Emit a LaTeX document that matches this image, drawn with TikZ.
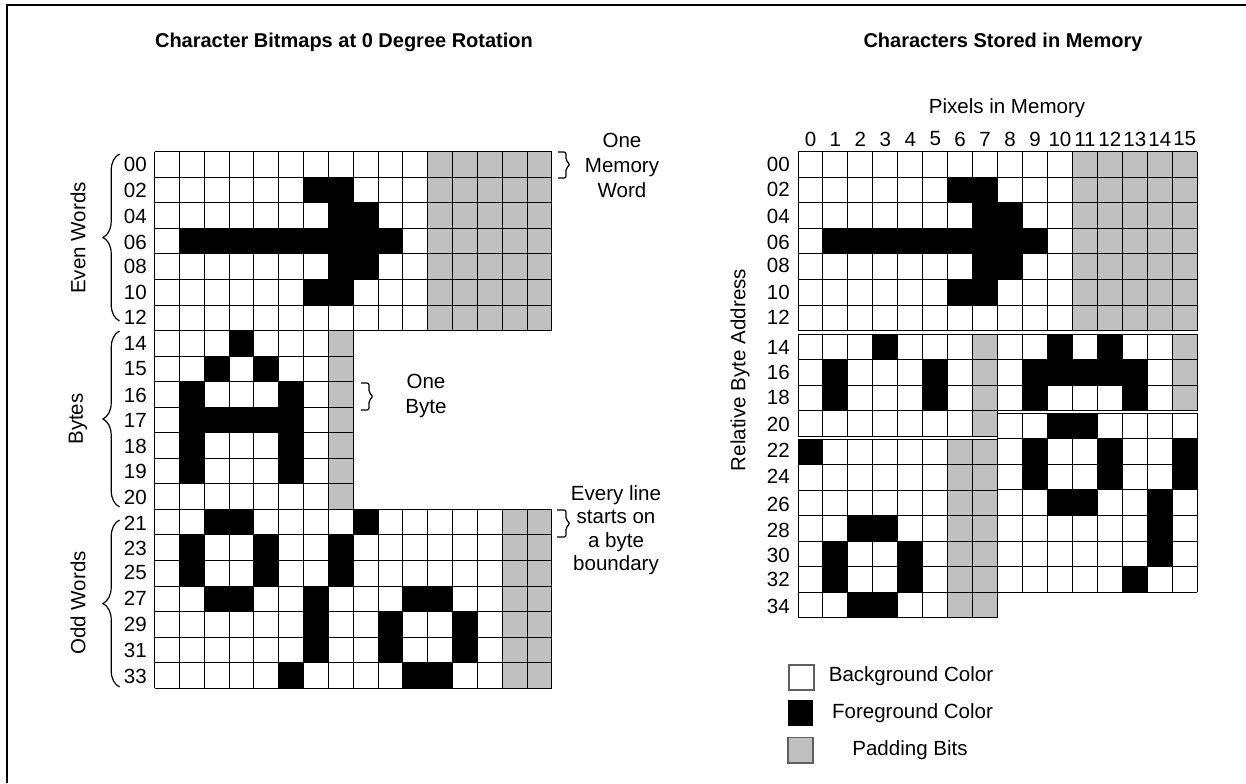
\documentclass[tikz,border=0pt]{standalone}
\usepackage{fontspec}
\setmainfont{Liberation Sans}
\usetikzlibrary{decorations.pathreplacing}

\definecolor{padgrey}{HTML}{C0C0C0}
\definecolor{boxedge}{HTML}{606060}

\tikzset{
    plaintext/.style={inner sep=0pt, font=\fontsize{15.4}{18.75}\selectfont},
    titletext/.style={inner sep=0pt, font=\fontsize{15}{18}\selectfont\bfseries},
    rowlabel/.style={plaintext, anchor=east},
    sidelabel/.style={plaintext, rotate=90},
    gridline/.style={line width=.7pt, draw=black},
    framing/.style={line width=1.6pt, draw=black},
    curlybrace/.style={line width=.9pt, decorate, decoration={brace, amplitude=12.4pt}},
    wordbracket/.style={line width=.9pt, rounded corners=1.5pt},
    legendbox/.style={line width=.8pt, draw=boxedge}
}

% x, y, cell width, columns, rows, padding columns, foreground cells
\newcommand{\bitgrid}[7]{
    \foreach \c in {#6} \fill[padgrey] ({#1+\c*#3},#2) rectangle ++(#3,{#5*\rowh});
    \foreach \c/\r in {#7} \fill[black] ({#1+\c*#3},{#2+\r*\rowh}) rectangle ++(#3,\rowh);
    \foreach \c in {0,...,#4} \draw[gridline] ({#1+\c*#3},#2) -- ++(0,{#5*\rowh});
    \foreach \r in {0,...,#5} \draw[gridline] (#1,{#2+\r*\rowh}) -- ++({#4*#3},0);
}

\begin{document}
\begin{tikzpicture}[x=.75pt, y=-.75pt]
    \useasboundingbox (0,0) rectangle (1246,783);
    \def\rowh{25.55}
    \def\leftw{24.84}
    \def\rightw{24.95}
    \def\lx{154.5}
    \def\rx{798}
    \def\rxb{997.6}

    % Frame, open on the right and at the bottom
    \draw[framing] (7,783) -- (7,5) -- (1246,5);

    % Titles
    \node[titletext] (lefttitle) at (344,42) {Character Bitmaps at 0 Degree Rotation};
    \node[titletext] (righttitle) at (1003,42) {Characters Stored in Memory};

    % Left side: the three blocks of characters
    \bitgrid{\lx}{151.7}{\leftw}{16}{7}{11,...,15}{6/1,7/1,7/2,8/2,1/3,2/3,3/3,4/3,5/3,6/3,7/3,8/3,9/3,7/4,8/4,6/5,7/5}
    \bitgrid{\lx}{330.55}{\leftw}{8}{7}{7}{3/0,2/1,4/1,1/2,5/2,1/3,2/3,3/3,4/3,5/3,1/4,5/4,1/5,5/5}
    \bitgrid{\lx}{509.4}{\leftw}{16}{7}{14,15}{2/0,3/0,8/0,1/1,4/1,7/1,1/2,4/2,7/2,2/3,3/3,6/3,10/3,11/3,6/4,9/4,12/4,6/5,9/5,12/5,5/6,10/6,11/6}

    % Left side: row numbers
    \foreach \lbl/\yy in {00/164,02/190,04/216,06/242,08/266,10/292,12/317,14/343,15/369,16/395,17/420,18/446,19/471,20/497,21/523,23/548,25/572,27/598,29/624,31/650,33/676}
        \node[rowlabel] (left\lbl) at (147,\yy) {\lbl};

    % Left side: braces and their labels
    \draw[curlybrace] (119.5,321) -- (119.5,154);
    \draw[curlybrace] (119.5,507) -- (119.5,331);
    \draw[curlybrace] (119.5,687) -- (119.5,520);
    \node[sidelabel] (evenwords) at (78,238) {Even Words};
    \node[sidelabel] (bytes) at (78,419) {Bytes};
    \node[sidelabel] (oddwords) at (78,603) {Odd Words};

    % Square brackets and notes beside the grid
    \draw[wordbracket] (558,152) -- (566,152) -- (566,160.5) -- (570,164.5) -- (566,168.5) -- (566,178) -- (558,178);
    \draw[wordbracket] (361,383) -- (369,383) -- (369,392.5) -- (373,396.5) -- (369,400.5) -- (369,410) -- (361,410);
    \draw[wordbracket] (557,510) -- (566,510) -- (566,519.5) -- (570,523.5) -- (566,527.5) -- (566,537) -- (557,537);
    \node[plaintext, align=center] (memoryword) at (622,165) {One\\Memory\\Word};
    \node[plaintext, align=center] (onebyte) at (426,395.5) {One\\Byte};
    \node[plaintext, align=center, font=\fontsize{15.4}{17.6}\selectfont] (everyline) at (616,530) {Every line\\starts on\\a byte\\boundary};

    % Right side: characters as stored
    \bitgrid{\rx}{151.7}{\rightw}{16}{7}{11,...,15}{6/1,7/1,7/2,8/2,1/3,2/3,3/3,4/3,5/3,6/3,7/3,8/3,9/3,7/4,8/4,6/5,7/5}
    \bitgrid{\rx}{334}{\rightw}{8}{4}{7}{3/0,1/1,5/1,1/2,5/2}
    \bitgrid{\rxb}{334}{\rightw}{8}{3}{7}{2/0,4/0,1/1,2/1,3/1,4/1,5/1,1/2,5/2}
    \bitgrid{\rx}{439}{\rightw}{8}{7}{6,7}{0/0,2/3,3/3,1/4,4/4,1/5,4/5,2/6,3/6}
    \bitgrid{\rxb}{413.3}{\rightw}{8}{7}{}{2/0,3/0,1/1,4/1,7/1,1/2,4/2,7/2,2/3,3/3,6/3,6/4,6/5,5/6}

    % Right side: axis labels
    \node[plaintext] (pixels) at (1007,108) {Pixels in Memory};
    \foreach \c in {0,...,15}
        \node[plaintext] (col\c) at ({\rx+(\c+.5)*\rightw},139) {\c};
    \foreach \lbl/\yy in {00/164,02/189,04/216,06/242,08/265,10/292,12/317,14/347,16/372,18/397,20/424,22/450,24/476,26/504,28/530,30/555,32/579,34/606}
        \node[rowlabel] (right\lbl) at (790,\yy) {\lbl};
    \node[sidelabel] (address) at (740,370) {Relative Byte Address};

    % Legend
    \draw[legendbox, fill=white] (789,665) rectangle (814,690);
    \fill[black] (788,699.5) rectangle (813,725.5);
    \draw[legendbox, fill=padgrey] (788,737.5) rectangle (813,763);
    \node[plaintext] (background) at (911,676) {Background Color};
    \node[plaintext] (foreground) at (912.5,713) {Foreground Color};
    \node[plaintext] (padding) at (910,750.5) {Padding Bits};
\end{tikzpicture}
\end{document}
